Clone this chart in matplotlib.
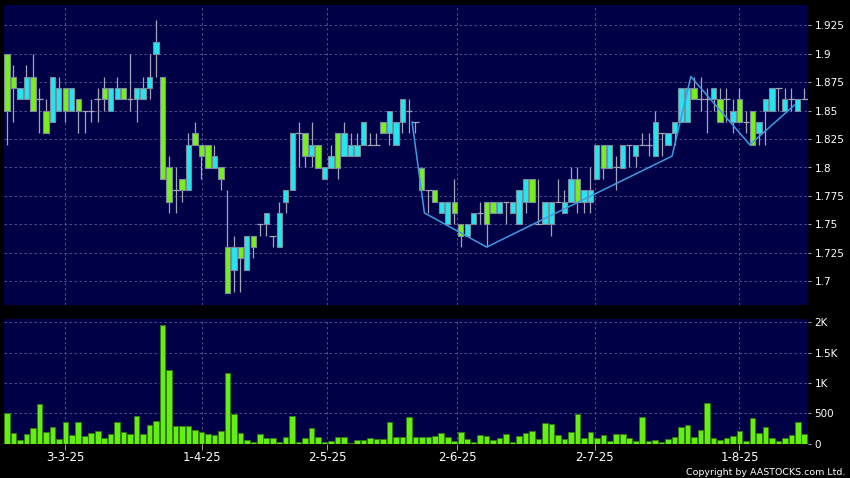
"""
Daily candlestick chart with a zigzag overlay and a volume panel underneath,
drawn in the dark-navy AASTOCKS style. Output: out.png, 850x478 px.
"""

import matplotlib
matplotlib.use("Agg")
import matplotlib.pyplot as plt
import numpy as np

# --- data (one entry per trading day, oldest first) -------------------------
opens = [
    1.90, 1.88, 1.86, 1.86, 1.88, 1.86, 1.85, 1.84, 1.85, 1.87,
    1.85, 1.86, 1.85, 1.85, 1.86, 1.87, 1.85, 1.86, 1.87, 1.86,
    1.86, 1.86, 1.87, 1.90, 1.88, 1.80, 1.78, 1.79, 1.78, 1.83,
    1.82, 1.82, 1.80, 1.80, 1.73, 1.71, 1.73, 1.71, 1.74, 1.75,
    1.75, 1.74, 1.73, 1.77, 1.78, 1.83, 1.83, 1.81, 1.82, 1.79,
    1.80, 1.83, 1.81, 1.81, 1.81, 1.82, 1.82, 1.82, 1.84, 1.83,
    1.82, 1.84, 1.85, 1.84, 1.80, 1.78, 1.78, 1.76, 1.75, 1.77,
    1.75, 1.74, 1.75, 1.76, 1.77, 1.77, 1.76, 1.77, 1.76, 1.75,
    1.77, 1.79, 1.75, 1.75, 1.75, 1.77, 1.76, 1.77, 1.79, 1.77,
    1.77, 1.79, 1.82, 1.80, 1.80, 1.80, 1.82, 1.81, 1.82, 1.82,
    1.81, 1.83, 1.82, 1.83, 1.84, 1.84, 1.87, 1.86, 1.86, 1.86,
    1.86, 1.86, 1.84, 1.86, 1.84, 1.85, 1.83, 1.85, 1.85, 1.87,
    1.85, 1.86, 1.85, 1.86,
]
highs = [
    1.90, 1.89, 1.87, 1.89, 1.90, 1.87, 1.86, 1.88, 1.88, 1.87,
    1.87, 1.86, 1.85, 1.86, 1.87, 1.88, 1.87, 1.88, 1.87, 1.90,
    1.87, 1.88, 1.90, 1.93, 1.88, 1.81, 1.80, 1.79, 1.83, 1.84,
    1.82, 1.82, 1.82, 1.80, 1.78, 1.74, 1.73, 1.74, 1.74, 1.75,
    1.76, 1.74, 1.77, 1.78, 1.83, 1.84, 1.83, 1.84, 1.82, 1.80,
    1.82, 1.83, 1.84, 1.83, 1.83, 1.84, 1.83, 1.83, 1.84, 1.85,
    1.84, 1.86, 1.86, 1.84, 1.80, 1.78, 1.78, 1.77, 1.77, 1.79,
    1.75, 1.75, 1.76, 1.77, 1.77, 1.77, 1.77, 1.77, 1.77, 1.78,
    1.79, 1.79, 1.79, 1.77, 1.77, 1.79, 1.78, 1.80, 1.80, 1.78,
    1.80, 1.82, 1.82, 1.82, 1.81, 1.82, 1.82, 1.82, 1.83, 1.83,
    1.85, 1.83, 1.83, 1.84, 1.87, 1.87, 1.88, 1.88, 1.87, 1.87,
    1.87, 1.87, 1.86, 1.87, 1.85, 1.85, 1.84, 1.86, 1.87, 1.87,
    1.87, 1.87, 1.86, 1.87,
]
lows = [
    1.82, 1.84, 1.86, 1.86, 1.85, 1.83, 1.83, 1.84, 1.85, 1.84,
    1.85, 1.83, 1.83, 1.84, 1.84, 1.85, 1.85, 1.86, 1.86, 1.85,
    1.84, 1.86, 1.86, 1.88, 1.79, 1.76, 1.76, 1.77, 1.78, 1.82,
    1.79, 1.80, 1.80, 1.78, 1.69, 1.69, 1.69, 1.71, 1.72, 1.74,
    1.74, 1.73, 1.73, 1.76, 1.78, 1.80, 1.80, 1.80, 1.80, 1.79,
    1.80, 1.79, 1.81, 1.81, 1.81, 1.82, 1.82, 1.82, 1.83, 1.82,
    1.82, 1.83, 1.83, 1.83, 1.78, 1.76, 1.77, 1.76, 1.75, 1.75,
    1.73, 1.74, 1.75, 1.75, 1.73, 1.76, 1.76, 1.75, 1.76, 1.75,
    1.76, 1.77, 1.75, 1.75, 1.74, 1.77, 1.76, 1.77, 1.76, 1.76,
    1.76, 1.79, 1.79, 1.80, 1.78, 1.80, 1.80, 1.80, 1.82, 1.81,
    1.81, 1.81, 1.82, 1.82, 1.84, 1.84, 1.86, 1.85, 1.83, 1.85,
    1.84, 1.84, 1.83, 1.84, 1.83, 1.82, 1.82, 1.82, 1.85, 1.85,
    1.85, 1.85, 1.85, 1.86,
]
closes = [
    1.85, 1.87, 1.87, 1.88, 1.85, 1.86, 1.83, 1.88, 1.87, 1.85,
    1.87, 1.85, 1.85, 1.85, 1.86, 1.86, 1.87, 1.87, 1.86, 1.86,
    1.87, 1.87, 1.88, 1.91, 1.79, 1.77, 1.78, 1.78, 1.82, 1.82,
    1.81, 1.80, 1.81, 1.79, 1.69, 1.73, 1.72, 1.74, 1.73, 1.75,
    1.76, 1.74, 1.76, 1.78, 1.83, 1.83, 1.81, 1.82, 1.80, 1.80,
    1.81, 1.80, 1.83, 1.82, 1.82, 1.84, 1.82, 1.82, 1.83, 1.85,
    1.84, 1.86, 1.85, 1.84, 1.78, 1.78, 1.77, 1.77, 1.77, 1.76,
    1.74, 1.75, 1.76, 1.76, 1.75, 1.76, 1.77, 1.77, 1.77, 1.78,
    1.79, 1.77, 1.75, 1.77, 1.77, 1.77, 1.77, 1.79, 1.77, 1.78,
    1.78, 1.82, 1.80, 1.82, 1.80, 1.82, 1.82, 1.82, 1.82, 1.82,
    1.84, 1.83, 1.83, 1.84, 1.87, 1.87, 1.86, 1.86, 1.86, 1.87,
    1.84, 1.86, 1.85, 1.84, 1.84, 1.82, 1.84, 1.86, 1.87, 1.87,
    1.86, 1.86, 1.86, 1.86,
]
volumes = [
    500, 170, 60, 168, 260, 650, 200, 270, 70, 360,
    150, 360, 126, 170, 205, 100, 157, 353, 190, 160,
    464, 160, 308, 368, 1955, 1210, 285, 285, 285, 225,
    200, 154, 140, 214, 1158, 495, 170, 60, 20, 159,
    99, 99, 20, 106, 456, 27, 93, 260, 106, 35,
    44, 112, 112, 15, 55, 62, 88, 77, 75, 352,
    104, 104, 434, 115, 104, 104, 126, 170, 115, 44,
    200, 71, 22, 148, 135, 63, 90, 159, 33, 126,
    176, 209, 77, 335, 330, 143, 77, 187, 495, 88,
    200, 102, 148, 50, 154, 157, 88, 38, 442, 49,
    60, 30, 85, 104, 280, 305, 107, 233, 676, 88,
    66, 88, 126, 214, 44, 418, 178, 282, 93, 44,
    88, 143, 354, 156,
]

# zigzag overlay: turning points as (day position, price)
zz_day = [62.5, 64.4, 74.0, 102.6, 105.5, 114.6, 121.5]
zz_price = [1.84, 1.76, 1.73, 1.81, 1.88, 1.82, 1.855]

date_labels = ["3-3-25", "1-4-25", "2-5-25", "2-6-25", "2-7-25", "1-8-25"]
date_pos = [9.0, 30.14, 49.43, 69.5, 90.7, 113.0]

price_ticks = [1.7, 1.725, 1.75, 1.775, 1.8, 1.825, 1.85, 1.875, 1.9, 1.925]
vol_ticks = [0, 500, 1000, 1500, 2000]
vol_labels = ["0", "500", "1K", "1.5K", "2K"]

# --- style -------------------------------------------------------------------
W, H = 850, 478
BG = "#000046"
GRID = "#5a5a96"
GREEN = "#78f01c"
CYAN = "#25e6ef"
EDGE = "#7d8c9c"
WICK = "#a4a4b8"
LINE = "#3d9be0"


def rect(left, top, right, bottom):
    """Pixel box (from the top-left corner) -> figure fraction."""
    return [left / W, 1 - bottom / H, (right - left) / W, (bottom - top) / H]


def style_axes(ax):
    ax.set_facecolor(BG)
    for s in ax.spines.values():
        s.set_visible(False)
    ax.grid(True, color=GRID, linestyle=(0, (3, 3)), linewidth=0.6)
    ax.set_axisbelow(True)
    ax.yaxis.tick_right()
    ax.tick_params(axis="y", colors="white", labelsize=7.5, length=2.5,
                   width=0.6, pad=2.5)
    ax.tick_params(axis="y", color="#bbbbbb")
    ax.set_xticks(date_pos)


o = np.array(opens)
h = np.array(highs)
lo = np.array(lows)
c = np.array(closes)
x = np.arange(len(c))

fig = plt.figure(figsize=(W / 100, H / 100), dpi=100, facecolor="black")
ax_p = fig.add_axes(rect(4, 5, 807.5, 305))
ax_v = fig.add_axes(rect(4, 319, 807.5, 443.7), sharex=ax_p)
style_axes(ax_p)
style_axes(ax_v)

# price candles
up = c > o
down = c < o
flat = c == o
ax_p.vlines(x, lo, h, color=WICK, linewidth=0.9, zorder=2)
ax_p.hlines(c[flat], x[flat] - 0.5, x[flat] + 0.5, color=WICK,
            linewidth=0.9, zorder=2)
ax_p.bar(x[up], (c - o)[up], bottom=o[up], width=0.82, color=CYAN,
         edgecolor=EDGE, linewidth=0.8, zorder=3)
ax_p.bar(x[down], (o - c)[down], bottom=c[down], width=0.82, color=GREEN,
         edgecolor=EDGE, linewidth=0.8, zorder=3)
ax_p.plot(zz_day, zz_price, color=LINE, linewidth=1.1, zorder=4)

ax_p.set_ylim(1.679, 1.943)
ax_p.set_yticks(price_ticks)
ax_p.set_yticklabels([f"{t:g}" for t in price_ticks])
ax_p.set_xlim(-0.46, 123.5)
ax_p.tick_params(axis="x", which="both", bottom=False, labelbottom=False)

# volume
ax_v.bar(x, volumes, width=0.86, color="#66ee12", edgecolor="#2f7a10",
         linewidth=0.7, zorder=3)
ax_v.set_ylim(0, 2055)
ax_v.set_yticks(vol_ticks)
ax_v.set_yticklabels(vol_labels)
ax_v.set_xticklabels(date_labels)
ax_v.tick_params(axis="x", colors="white", labelsize=8.5, length=4,
                 width=0.6, pad=1.5)
ax_v.tick_params(axis="x", color="#bbbbbb")

fig.text(845.5 / W, 1 - 472.5 / H, "Copyright by AASTOCKS.com Ltd.",
         color="white", fontsize=6.8, ha="right", va="center")

fig.savefig("out.png", dpi=100, facecolor="black")
plt.close(fig)
